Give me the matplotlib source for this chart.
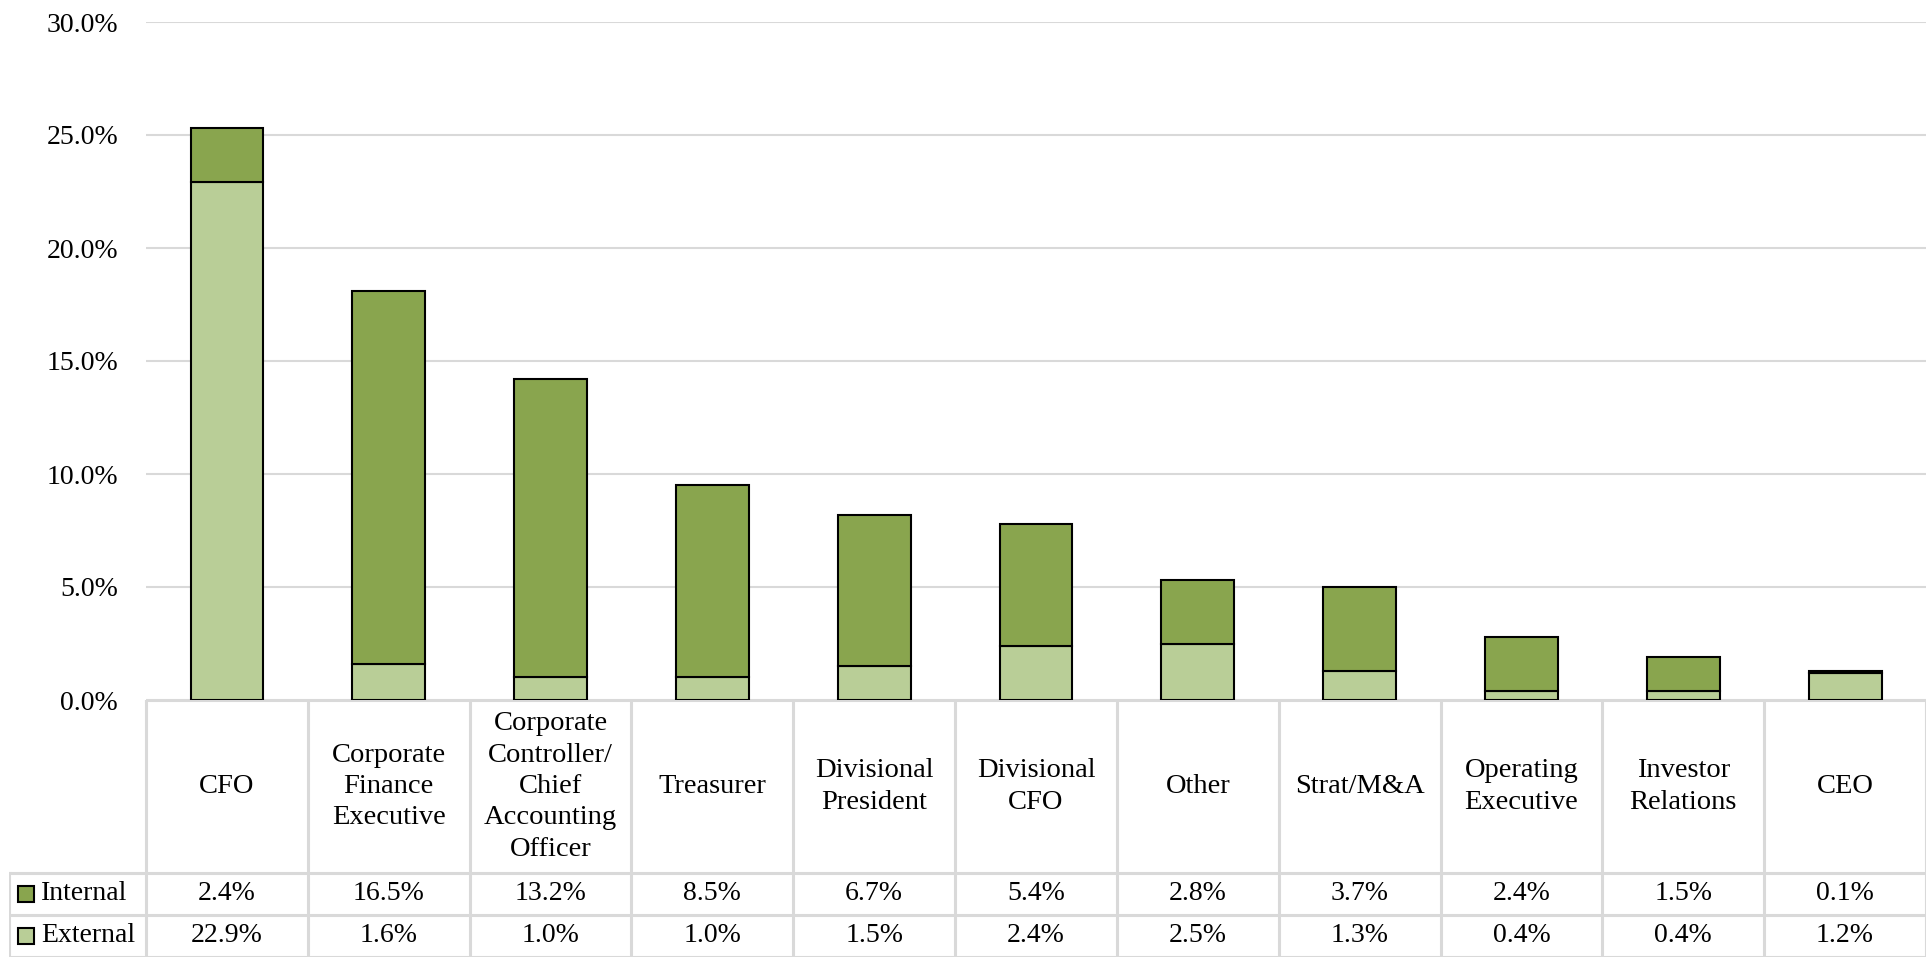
import numpy as np
import matplotlib
matplotlib.use("Agg")
import matplotlib.pyplot as plt
from matplotlib.patches import Rectangle

plt.rcParams['font.family'] = ['Liberation Serif', 'DejaVu Serif']

categories = ["CFO", "Corporate\nFinance\nExecutive",
              "Corporate\nController/\nChief\nAccounting\nOfficer",
              "Treasurer", "Divisional\nPresident", "Divisional\nCFO", "Other",
              "Strat/M&A", "Operating\nExecutive", "Investor\nRelations", "CEO"]
internal = [2.4, 16.5, 13.2, 8.5, 6.7, 5.4, 2.8, 3.7, 2.4, 1.5, 0.1]
external = [22.9, 1.6, 1.0, 1.0, 1.5, 2.4, 2.5, 1.3, 0.4, 0.4, 1.2]
series_names = ["Internal", "External"]
yticks = [0, 5, 10, 15, 20, 25, 30]

c_int = "#89A54E"
c_ext = "#B9CE97"
c_grid = "#D9D9D9"

W, H = 1932, 958
fig = plt.figure(figsize=(W / 100, H / 100), dpi=100)

# chart area (pixel layout)
left, right, top, base = 146, 1926, 22, 700
ax = fig.add_axes([left / W, 1 - base / H, (right - left) / W, (base - top) / H])
x = np.arange(len(categories))
ax.bar(x, external, width=0.45, color=c_ext, edgecolor="black", linewidth=1.5, zorder=3)
ax.bar(x, internal, width=0.45, bottom=external, color=c_int, edgecolor="black",
       linewidth=1.5, zorder=3)
ax.set_xlim(-0.5, len(categories) - 0.5)
ax.set_ylim(0, 30)
ax.set_yticks(yticks)
ax.set_yticklabels([f"{v:.1f}%" for v in yticks], fontsize=20)
ax.tick_params(axis="y", length=0, pad=20)
ax.tick_params(axis="x", bottom=False, labelbottom=False)
ax.grid(axis="y", color=c_grid, linewidth=1.5, zorder=0)
for s in ax.spines.values():
    s.set_visible(False)

# data table
tl, tr, tb = 9, 1926, 957
colw = (right - left) / len(categories)
lab_w = (left - tl) / colw
tax = fig.add_axes([tl / W, 1 - tb / H, (tr - tl) / W, (tb - base) / H])
tax.set_xlim(-0.5 - lab_w, len(categories) - 0.5)
rows_y = [0, 173, 215, 257]
tax.set_ylim(rows_y[-1], 0)
tax.axis("off")

lc = dict(color=c_grid, linewidth=2.2, solid_capstyle="projecting")
x0 = -0.5 - lab_w
xe = len(categories) - 0.5
tax.plot([-0.5, xe], [0, 0], **lc)
for yy in rows_y[1:]:
    tax.plot([x0, xe], [yy, yy], **lc)
tax.plot([x0, x0], [rows_y[1], rows_y[-1]], **lc)
for i in range(len(categories) + 1):
    tax.plot([i - 0.5, i - 0.5], [0, rows_y[-1]], **lc)

for i, c in enumerate(categories):
    tax.text(i, rows_y[1] / 2, c, ha="center", va="center", fontsize=20.5,
             linespacing=1.33)
    tax.text(i, (rows_y[1] + rows_y[2]) / 2, f"{internal[i]:.1f}%", ha="center",
             va="center", fontsize=20)
    tax.text(i, (rows_y[2] + rows_y[3]) / 2, f"{external[i]:.1f}%", ha="center",
             va="center", fontsize=20)

sq = 16 / colw
for k, (name, col) in enumerate(zip(series_names, [c_int, c_ext])):
    yc = (rows_y[k + 1] + rows_y[k + 2]) / 2
    tax.add_patch(Rectangle((x0 + 9 / colw, yc - 8), sq, 16, facecolor=col,
                            edgecolor="black", linewidth=1.5, clip_on=False))
    tax.text(x0 + 32 / colw, yc, name, ha="left", va="center", fontsize=20)

fig.savefig("out.png", dpi=100)
